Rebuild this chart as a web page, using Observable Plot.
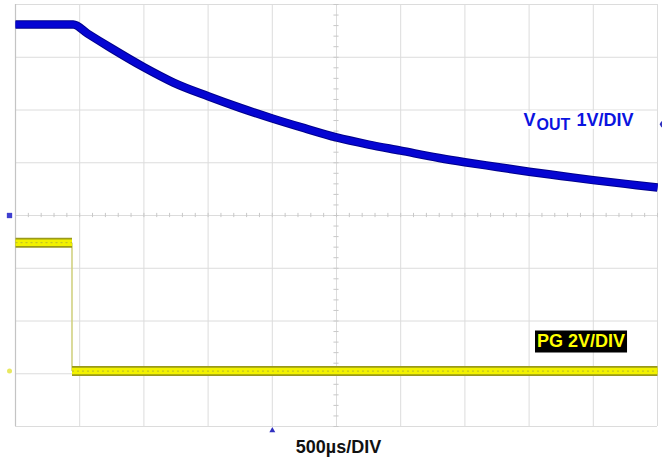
<!DOCTYPE html>
<html>
<head>
<meta charset="utf-8">
<script src="https://cdn.jsdelivr.net/npm/d3@7"></script>
<script src="https://cdn.jsdelivr.net/npm/@observablehq/plot@0.6"></script>
<style>
  html, body { margin: 0; padding: 0; background: #fff; }
  #chart { width: 662px; height: 459px; }
</style>
</head>
<body>
<div id="chart"></div>
<script>
// ---- Data (read from the scope capture) ----
// time in ms from left edge of screen (500 µs/div, 10 div)
const voutTime = [0, 0.45, 0.56, 0.74, 1.0, 1.23, 1.5, 1.75, 2.0, 2.25, 2.5, 2.75, 3.0, 3.3, 3.5, 3.75, 4.0, 4.25, 4.5, 4.75, 5.0];
// VOUT in volts (1 V/div)
const voutVolts = [3.62, 3.62, 3.45, 3.18, 2.81, 2.52, 2.26, 2.04, 1.84, 1.655, 1.48, 1.345, 1.23, 1.09, 1.01, 0.92, 0.83, 0.75, 0.67, 0.60, 0.53];
// PG in volts (2 V/div)
const pgTime = [0, 0.44, 0.44, 5.0];
const pgVolts = [4.87, 4.87, 0, 0];
// Scale settings
const timePerDiv = 0.5;   // ms
const divisionsX = 10;
const divisionsY = 8;
const voutVoltsPerDiv = 1;
const pgVoltsPerDiv = 2;
const voutGroundDiv = 4.0;  // channel 1 ground marker (divisions from bottom)
const pgGroundDiv = 1.05;   // channel 2 ground marker
const triggerTime = 2.0;    // trigger position marker (ms)
const triggerLevel = 1.73;  // VOUT trigger level (V)
const labels = { vout: ["V", "OUT", "1V/DIV"], pg: "PG 2V/DIV", time: "500µs/DIV" };

// ---- Derived tables ----
const vout = voutTime.map((t, i) => ({ t, div: voutGroundDiv + voutVolts[i] / voutVoltsPerDiv }));
const pgPts = pgTime.map((t, i) => ({ t, div: pgGroundDiv + pgVolts[i] / pgVoltsPerDiv }));
const pgSegs = pgPts.slice(1).map((p, i) => ({ x1: pgPts[i].t, y1: pgPts[i].div, x2: p.t, y2: p.div, flat: pgPts[i].div === p.div }));

const xMax = timePerDiv * divisionsX;
const gridX = d3.range(0, divisionsX + 1).map(i => i * timePerDiv);
const gridY = d3.range(0, divisionsY + 1);
const minorX = d3.range(0, divisionsX * 5 + 1).map(i => i * timePerDiv / 5);
const minorY = d3.range(0, divisionsY * 5 + 1).map(i => i / 5);

const font = "Arial, 'Liberation Sans', sans-serif";
const blueTrace = "#0505d2";
const blueText = "#0b14e0";

const chart = Plot.plot({
  width: 662,
  height: 459,
  marginLeft: 15,
  marginRight: 5,
  marginTop: 4,
  marginBottom: 33,
  style: { fontFamily: font, background: "white", overflow: "visible" },
  x: { domain: [0, xMax], axis: null },
  y: { domain: [0, divisionsY], axis: null },
  marks: [
    // grid
    Plot.ruleX(gridX, { stroke: "#dcdcdc", strokeWidth: 1 }),
    Plot.ruleY(gridY, { stroke: "#dcdcdc", strokeWidth: 1 }),
    Plot.ruleX([0], { stroke: "#c4c4c4", strokeWidth: 1.2 }),
    // minor ticks on centre lines
    Plot.ruleX(minorX, { y1: divisionsY / 2 - 0.04, y2: divisionsY / 2 + 0.04, stroke: "#c8c8c8" }),
    Plot.ruleY(minorY, { x1: xMax / 2 - 0.02, x2: xMax / 2 + 0.02, stroke: "#c8c8c8" }),
    // VOUT trace
    Plot.line(vout, { x: "t", y: "div", curve: "monotone-x", stroke: "#00008c", strokeWidth: 8.5, strokeLinecap: "butt" }),
    Plot.line(vout, { x: "t", y: "div", curve: "monotone-x", stroke: blueTrace, strokeWidth: 6.5, strokeLinecap: "butt" }),
    // PG trace
    Plot.link(pgSegs.filter(d => !d.flat), { x1: "x1", y1: "y1", x2: "x2", y2: "y2", stroke: "#cfcf7a", strokeWidth: 1.5 }),
    Plot.link(pgSegs.filter(d => d.flat), { x1: "x1", y1: "y1", x2: "x2", y2: "y2", stroke: "#9a9a18", strokeWidth: 10, strokeLinecap: "butt" }),
    Plot.link(pgSegs.filter(d => d.flat), { x1: "x1", y1: "y1", x2: "x2", y2: "y2", stroke: "#f2f200", strokeWidth: 6.5, strokeLinecap: "butt" }),
    Plot.link(pgSegs.filter(d => d.flat), { x1: "x1", y1: "y1", x2: "x2", y2: "y2", stroke: "#b8b830", strokeWidth: 1, strokeDasharray: "2,3", strokeLinecap: "butt" }),
    // channel / trigger markers
    Plot.dot([voutGroundDiv], { x: () => 0, y: d => d, dx: -6, symbol: "square", r: 3, fill: "#4040d0" }),
    Plot.dot([pgGroundDiv], { x: () => 0, y: d => d, dx: -6, symbol: "circle", r: 2.5, fill: "#e8e860" }),
    Plot.dot([triggerTime], { x: d => d, y: () => 0, dy: 4, symbol: "triangle", r: 2.2, fill: "#3030c0" }),
    Plot.dot([voutGroundDiv + triggerLevel / voutVoltsPerDiv], { x: () => xMax, y: d => d, dx: 4, symbol: "diamond", r: 2, fill: "#3030c0" }),
    // labels
    Plot.text([labels.vout[0]], { text: d => d, frameAnchor: "top-left", dx: 508, dy: 121, textAnchor: "start", lineAnchor: "bottom", fontSize: 18, fontWeight: "bold", fill: blueText, stroke: "white", strokeWidth: 6, paintOrder: "stroke" }),
    Plot.text([labels.vout[1]], { text: d => d, frameAnchor: "top-left", dx: 521, dy: 125, textAnchor: "start", lineAnchor: "bottom", fontSize: 16, fontWeight: "bold", fill: blueText, stroke: "white", strokeWidth: 6, paintOrder: "stroke" }),
    Plot.text([labels.vout[2]], { text: d => d, frameAnchor: "top-left", dx: 561, dy: 121, textAnchor: "start", lineAnchor: "bottom", fontSize: 18, fontWeight: "bold", fill: blueText, stroke: "white", strokeWidth: 6, paintOrder: "stroke" }),
    Plot.text([labels.pg], { text: d => d, frameAnchor: "top-left", dx: 521.5, dy: 342, textAnchor: "start", lineAnchor: "bottom", fontSize: 18, fontWeight: "bold", fill: "#ffff00", className: "pg-label" }),
    Plot.text([labels.time], { text: d => d, frameAnchor: "bottom", dx: 2, dy: 26, lineAnchor: "bottom", fontSize: 18, fontWeight: "bold", fill: "#111" })
  ]
});

document.getElementById("chart").appendChild(chart);

// black background box behind the PG label
const pgText = chart.querySelector(".pg-label text");
if (pgText) {
  const b = pgText.getBBox();
  const rect = document.createElementNS("http://www.w3.org/2000/svg", "rect");
  rect.setAttribute("x", b.x - 2);
  rect.setAttribute("y", b.y);
  rect.setAttribute("width", b.width + 4);
  rect.setAttribute("height", b.height + 2);
  rect.setAttribute("fill", "#000");
  const g = pgText.parentNode;
  const tr = pgText.getAttribute("transform");
  if (tr) rect.setAttribute("transform", tr);
  g.insertBefore(rect, pgText);
}
</script>
</body>
</html>
